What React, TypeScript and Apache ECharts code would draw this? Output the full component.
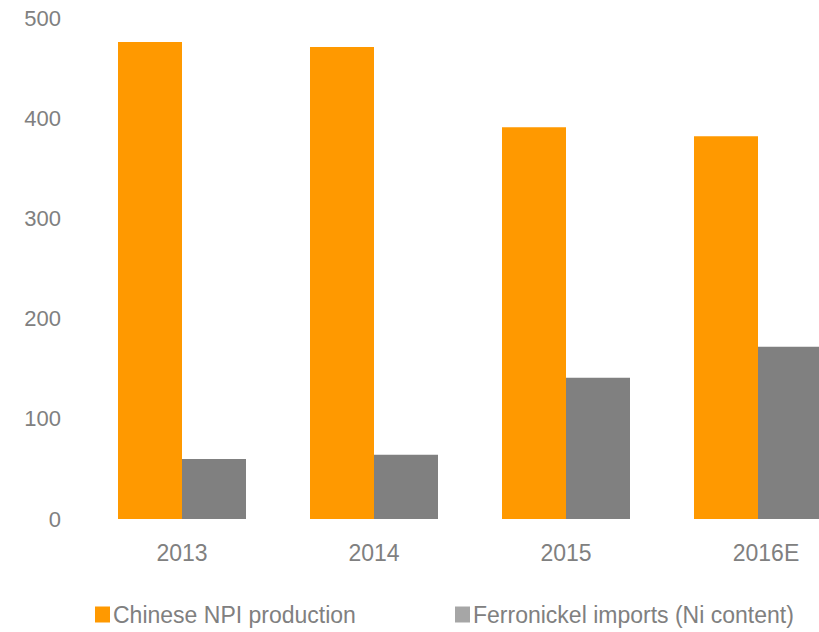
import React, { useEffect, useRef } from "react";
import * as echarts from "echarts";

const categories = ["2013", "2014", "2015", "2016E"];
const npiProduction = [476, 471, 391, 382];
const ferronickelImports = [60, 64, 141, 172];
const yTicks = [0, 100, 200, 300, 400, 500];

const FONT = "'Liberation Sans', Arial, sans-serif";
const TEXT = "#808080";

export default function App() {
  const ref = useRef<HTMLDivElement>(null);
  useEffect(() => {
    if (!ref.current) return;
    const chart = echarts.init(ref.current, undefined, { renderer: "svg" });
    const legendBase = {
      top: 603,
      padding: 0,
      itemWidth: 15,
      itemHeight: 16,
      itemGap: 0,
      icon: "rect",
      textStyle: { color: TEXT, fontSize: 23, fontFamily: FONT, padding: [0, 0, 0, -2] },
    };
    chart.setOption({
      animation: false,
      backgroundColor: "#ffffff",
      grid: { left: 86, right: 0, top: 18, bottom: 113, containLabel: false },
      legend: [
        { ...legendBase, data: ["Chinese NPI production"], left: 95 },
        {
          ...legendBase,
          data: [{ name: "Ferronickel imports (Ni content)", itemStyle: { color: "#A6A6A6" } }],
          left: 455,
        },
      ],
      xAxis: {
        type: "category",
        data: categories.map((c, i) =>
          i === categories.length - 1 ? { value: c, textStyle: { padding: [0, 0, 0, 16] } } : c
        ),
        axisLine: { show: false },
        axisTick: { show: false },
        axisLabel: { color: TEXT, fontSize: 23, fontFamily: FONT, margin: 22 },
      },
      yAxis: {
        type: "value",
        min: yTicks[0],
        max: yTicks[yTicks.length - 1],
        interval: 100,
        splitLine: { show: false },
        axisLine: { show: false },
        axisTick: { show: false },
        axisLabel: { color: TEXT, fontSize: 22, fontFamily: FONT, margin: 25 },
      },
      series: [
        {
          name: "Chinese NPI production",
          type: "bar",
          data: npiProduction,
          barGap: "0%",
          barCategoryGap: "33.33%",
          itemStyle: { color: "#FF9900" },
        },
        {
          name: "Ferronickel imports (Ni content)",
          type: "bar",
          data: ferronickelImports,
          itemStyle: { color: "#808080" },
        },
      ],
    });
    return () => chart.dispose();
  }, []);
  return (
    <div
      style={{
        width: 819,
        height: 632,
        position: "absolute",
        left: 0,
        top: 0,
        overflow: "hidden",
        background: "#ffffff",
      }}
    >
      <div ref={ref} style={{ width: 854, height: 632 }} />
    </div>
  );
}
